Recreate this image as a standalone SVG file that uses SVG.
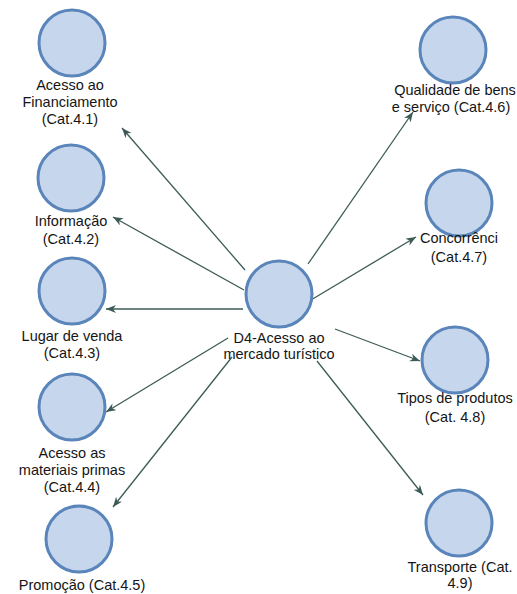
<svg xmlns="http://www.w3.org/2000/svg" width="517" height="594" viewBox="0 0 517 594">
<style>
.n{fill:#c6d6ec;stroke:#5a85ba;stroke-width:3}
.t{font-family:"Liberation Sans",Arial,sans-serif;font-size:14.5px;fill:#151515;text-anchor:middle}
.e{stroke:#3d5b56;stroke-width:1.3;fill:none;marker-end:url(#a)}
</style>
<defs>
<marker id="a" markerUnits="userSpaceOnUse" markerWidth="12" markerHeight="10" refX="10" refY="4" orient="auto">
<path d="M0,0 L10,4 L0,8 L3,4 Z" fill="#3d5b56"/>
</marker>
</defs>
<rect width="517" height="594" fill="#fff"/>
<g id="connectors">
<line class="e" x1="245" y1="270" x2="122" y2="128"/>
<line class="e" x1="244" y1="290" x2="113" y2="217"/>
<line class="e" x1="243" y1="309" x2="106" y2="309"/>
<line class="e" x1="228" y1="338" x2="106" y2="412"/>
<line class="e" x1="232" y1="357" x2="113" y2="507"/>
<line class="e" x1="308" y1="264" x2="413" y2="112"/>
<line class="e" x1="311" y1="300" x2="416" y2="237"/>
<line class="e" x1="335" y1="329" x2="420" y2="361"/>
<line class="e" x1="317" y1="361" x2="423" y2="495"/>
</g>
<g id="n-d4">
<circle class="n" cx="279" cy="294" r="33"/>
<text class="t" x="279" y="343">D4-Acesso ao</text>
<text class="t" x="279" y="359">mercado turístico</text>
</g>
<g id="n-4-1">
<circle class="n" cx="72" cy="43" r="33"/>
<text class="t" x="70" y="90">Acesso ao</text>
<text class="t" x="70" y="107">Financiamento</text>
<text class="t" x="70" y="124">(Cat.4.1)</text>
</g>
<g id="n-4-2">
<circle class="n" cx="71" cy="178" r="33"/>
<text class="t" x="71" y="226">Informação</text>
<text class="t" x="71" y="244">(Cat.4.2)</text>
</g>
<g id="n-4-3">
<circle class="n" cx="72" cy="291" r="33"/>
<text class="t" x="72" y="341">Lugar de venda</text>
<text class="t" x="72" y="358">(Cat.4.3)</text>
</g>
<g id="n-4-4">
<circle class="n" cx="72" cy="407" r="33"/>
<text class="t" x="72" y="458">Acesso as</text>
<text class="t" x="72" y="475">materiais primas</text>
<text class="t" x="72" y="492">(Cat.4.4)</text>
</g>
<g id="n-4-5">
<circle class="n" cx="79" cy="539" r="33"/>
<text class="t" x="82" y="590">Promoção (Cat.4.5)</text>
</g>
<g id="n-4-6">
<circle class="n" cx="453" cy="50" r="33"/>
<text class="t" x="455" y="95">Qualidade de bens</text>
<text class="t" x="451" y="112">e serviço (Cat.4.6)</text>
</g>
<g id="n-4-7">
<circle class="n" cx="459" cy="203" r="33"/>
<text class="t" x="459" y="243">Concorrênci</text>
<text class="t" x="459" y="262">(Cat.4.7)</text>
</g>
<g id="n-4-8">
<circle class="n" cx="455" cy="360" r="33"/>
<text class="t" x="455" y="403">Tipos de produtos</text>
<text class="t" x="455" y="422">(Cat. 4.8)</text>
</g>
<g id="n-4-9">
<circle class="n" cx="459" cy="523" r="33"/>
<text class="t" x="460" y="572">Transporte (Cat.</text>
<text class="t" x="460" y="588">4.9)</text>
</g>
</svg>
